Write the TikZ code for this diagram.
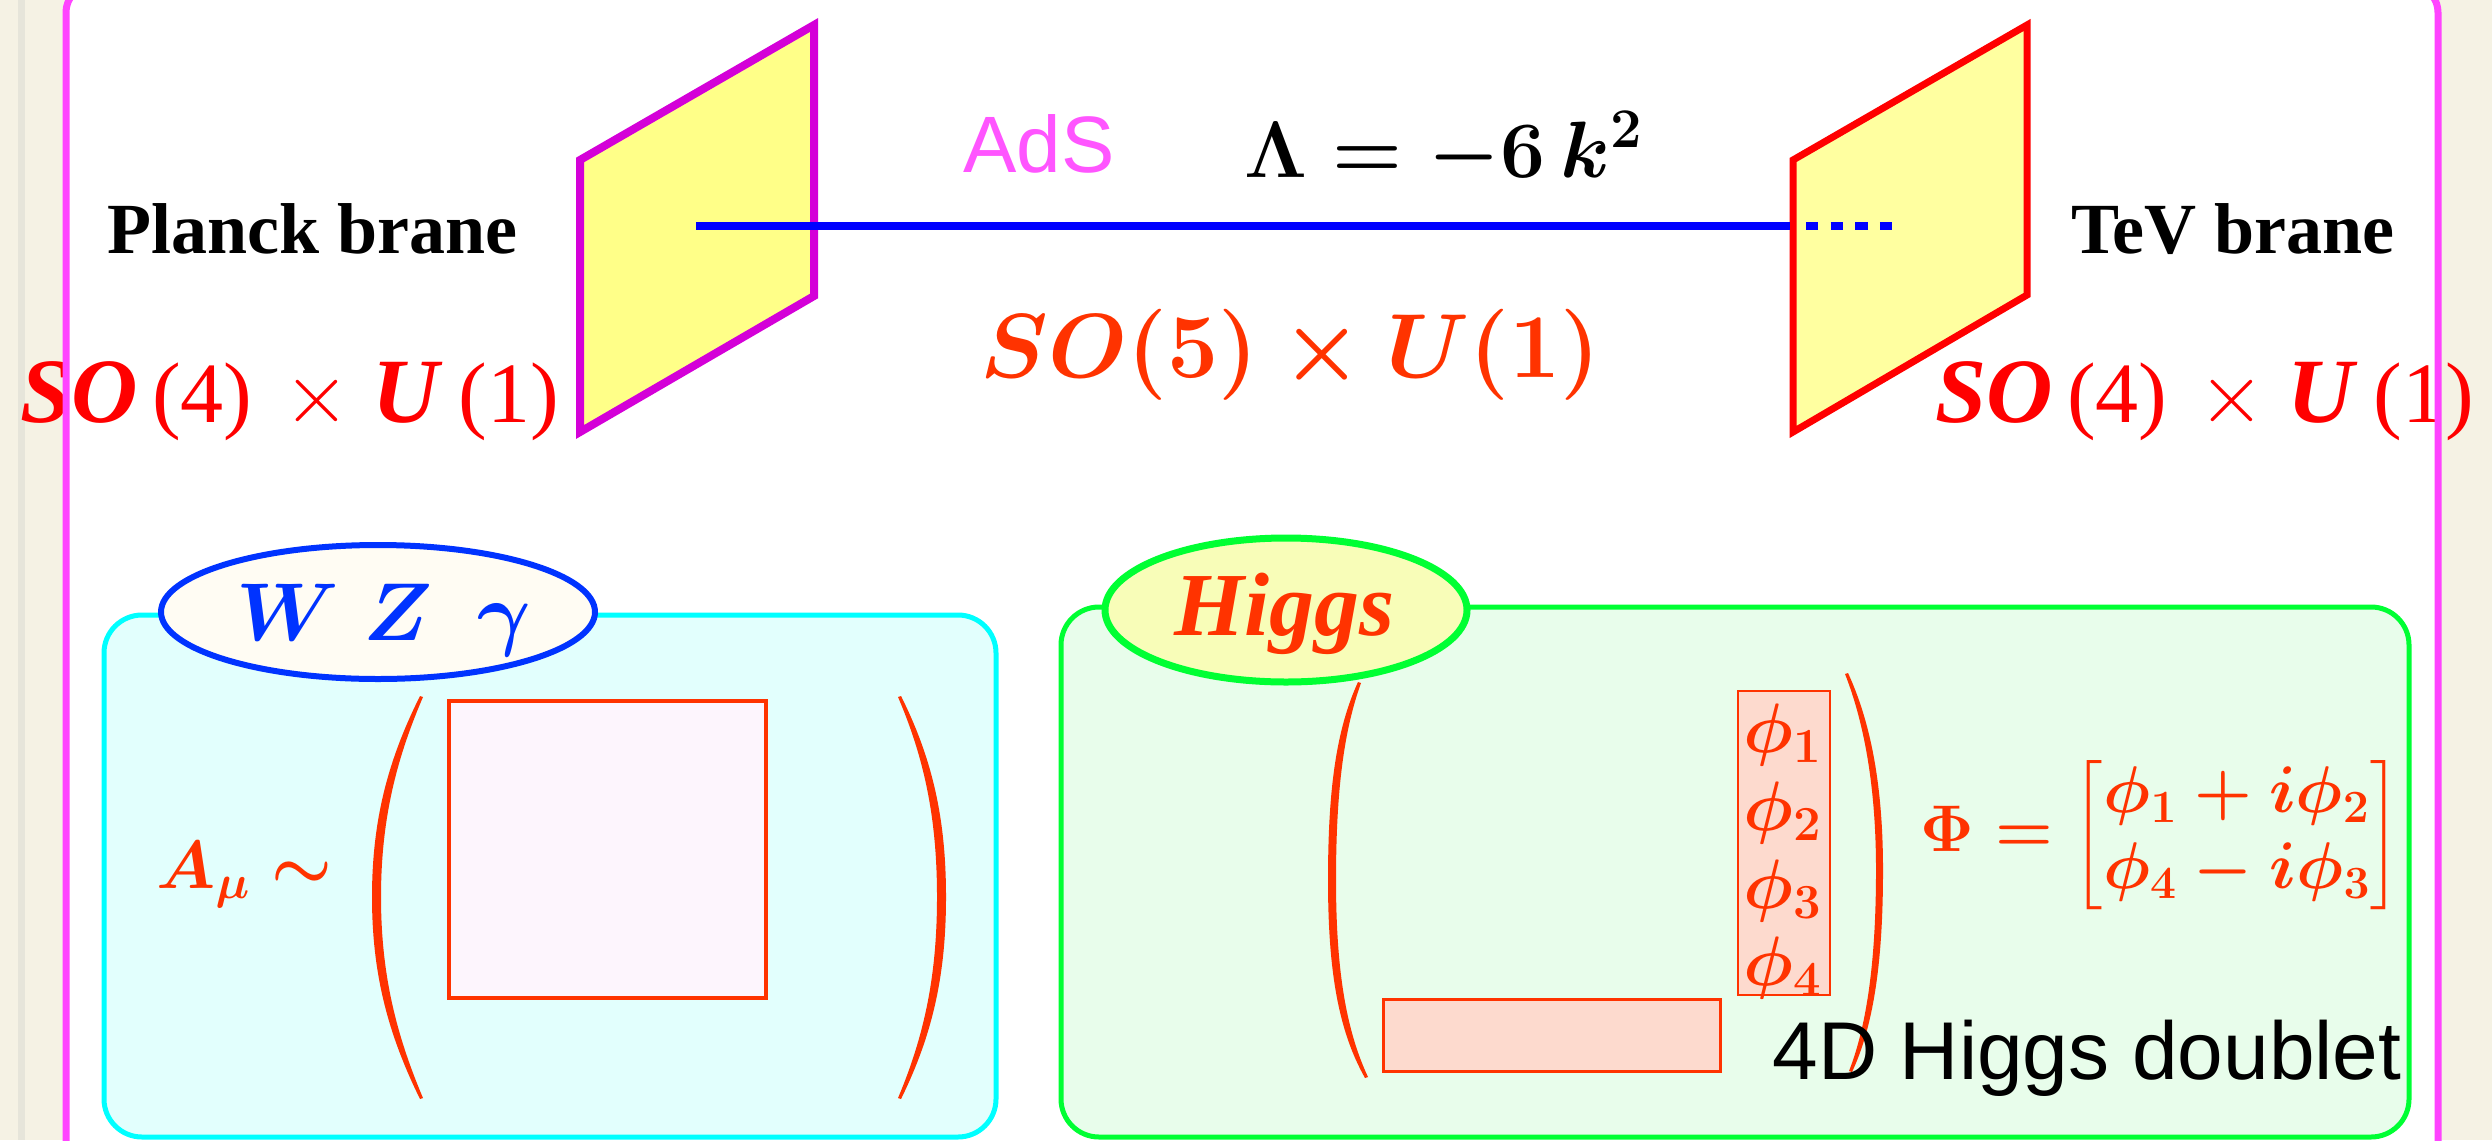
\documentclass[tikz,border=0pt]{standalone}
\usepackage{fix-cm}
\usepackage{amsmath}
\usepackage[no-math]{fontspec}
\setmainfont{Liberation Serif}
\newfontfamily\sansf{Liberation Sans}
\usetikzlibrary{shapes.geometric}
\definecolor{beige}{HTML}{F5F2E4}
\definecolor{stripe}{HTML}{E6E5DA}
\definecolor{framemag}{HTML}{FF44FF}
\definecolor{planckmag}{HTML}{D400D8}
\definecolor{braneyel}{HTML}{FFFF88}
\definecolor{tevyel}{HTML}{FFFFA0}
\definecolor{orred}{HTML}{FF3300}
\definecolor{cyanline}{HTML}{00FFFF}
\definecolor{cyanfill}{HTML}{E2FFFD}
\definecolor{greenfill}{HTML}{E8FDEB}
\definecolor{greenline}{HTML}{00FF33}
\definecolor{wzblue}{HTML}{0033FF}
\definecolor{ivory}{HTML}{FFFCF3}
\definecolor{higgsfill}{HTML}{F8FDB8}
\definecolor{pinkfill}{HTML}{FDF5FD}
\definecolor{salmon}{HTML}{FDDACE}
\definecolor{adsmag}{HTML}{FF55FF}
\definecolor{pureblue}{HTML}{0000FF}
\definecolor{purered}{HTML}{FF0000}
\tikzset{
  lbl/.style={inner sep=0pt, anchor=base west},
  bigparen/.style={fill=orred},
  brane/.style={line width=4pt, line join=miter},
  panel/.style={line width=2.5pt, rounded corners=19pt},
  blob/.style={ellipse, inner sep=0pt},
  redbox/.style={draw=orred},
}
\newcommand{\bigbi}[1]{{\fontsize{46}{48}\selectfont\bfseries\itshape #1\/}}
\newcommand{\sofour}{\fontsize{43}{46}\selectfont\bigbi{SO}\hspace{7pt}(4)\hspace{15.5pt}$\times$\hspace{11pt}\bigbi{U}\hspace{8pt}(1)}
\begin{document}
\begin{tikzpicture}[x=0.5pt,y=-0.5pt]
\useasboundingbox (0,0) rectangle (2492,1140);
\fill[beige] (0,0) rectangle (2492,1140);
\draw[stripe, line width=3.5pt] (21,0) -- (21,1140);
\begin{scope}
\clip (0,0) rectangle (2492,1140);
\fill[white, rounded corners=15pt] (66,-17) rectangle (2438,1200);

% branes
\draw[brane, draw=planckmag, fill=braneyel] (580,160) -- (814,25) -- (814,296) -- (580,432) -- cycle;
\draw[brane, line width=3.5pt, draw=purered, fill=tevyel] (1793,160) -- (2027,25) -- (2027,295) -- (1793,432) -- cycle;
\coordinate (ls) at (696,226);
\coordinate (le) at (1790,226);
\coordinate (ds) at (1806,226);
\coordinate (de) at (1892,226);
\draw[pureblue, line width=4pt] (ls) -- (le);
\draw[pureblue, line width=4pt, dash pattern=on 6.2pt off 6.1pt] (ds) -- (de);

% top texts
\node[lbl] (planck) at (107,253) {\fontsize{36}{40}\selectfont\bfseries Planck brane};
\node[lbl] (tev) at (2071,253) {\fontsize{36}{40}\selectfont\bfseries TeV brane};
\node[lbl, text=adsmag] (ads) at (963,172) {\sansf\fontsize{40}{44}\selectfont AdS};
\node[lbl] (cosmo) at (1244,177) {\fontsize{40}{44}\selectfont $\boldsymbol{\Lambda = -6\,k^{2}}$};
\node[lbl, text=orred] (so5) at (980,377) {\fontsize{45.5}{50}\selectfont $\boldsymbol{SO(5)\times U(1)}$};
\node[lbl, text=purered] (so4l) at (20,422) {\sofour};
\node[lbl, text=purered] (so4r) at (1935,422) {\sofour};

% left panel
\draw[panel, draw=cyanline, fill=cyanfill] (104,615) rectangle (996,1137);
\fill[bigparen] (420,696) .. controls (388,760) and (372,820) .. (372,897) .. controls (372,974) and (388,1034) .. (420,1099) -- (423,1098) .. controls (396,1034) and (381,974) .. (381,897) .. controls (381,820) and (396,760) .. (423,697) -- cycle;
\fill[bigparen] (901,696) .. controls (933,760) and (946,820) .. (946,897) .. controls (946,974) and (933,1034) .. (901,1099) -- (898,1098) .. controls (925,1034) and (937,974) .. (937,897) .. controls (937,820) and (925,760) .. (898,697) -- cycle;
\draw[redbox, line width=2pt, fill=pinkfill] (449,701) rectangle (766,998);
\node[lbl, text=orred] (amu) at (156,888) {\fontsize{34}{38}\selectfont $\boldsymbol{A_\mu\sim}$};
\node[blob, draw=wzblue, line width=3pt, fill=ivory, minimum width=217pt, minimum height=67pt] (wzell) at (378,612) {};
\node[lbl, text=wzblue] (wz) at (236,640) {\fontsize{41}{44}\selectfont $\boldsymbol{W}\hspace{0.3em}\boldsymbol{Z}\hspace{0.55em}\boldsymbol{\gamma}$};

% right panel
\draw[panel, draw=greenline, fill=greenfill] (1061,607) rectangle (2409,1137);
\fill[bigparen] (1358,682) .. controls (1336,730) and (1328,790) .. (1328,880) .. controls (1328,970) and (1338,1030) .. (1365,1078) -- (1368,1077) .. controls (1346,1030) and (1336,970) .. (1336,880) .. controls (1336,790) and (1344,730) .. (1361,683) -- cycle;
\fill[bigparen] (1848,673) .. controls (1872,725) and (1883,790) .. (1883,870) .. controls (1883,960) and (1874,1025) .. (1852,1072) -- (1849,1071) .. controls (1867,1025) and (1876,960) .. (1876,870) .. controls (1876,790) and (1865,725) .. (1845,674) -- cycle;
\draw[redbox, line width=1pt, fill=salmon] (1738,691) rectangle (1830,995);
\node[inner sep=0pt, anchor=base, text=orred] (phi1) at (1783,752) {\fontsize{35}{38}\selectfont $\boldsymbol{\phi_1}$};
\node[inner sep=0pt, anchor=base, text=orred] (phi2) at (1783,830) {\fontsize{35}{38}\selectfont $\boldsymbol{\phi_2}$};
\node[inner sep=0pt, anchor=base, text=orred] (phi3) at (1783,908) {\fontsize{35}{38}\selectfont $\boldsymbol{\phi_3}$};
\node[inner sep=0pt, anchor=base, text=orred] (phi4) at (1783,985) {\fontsize{35}{38}\selectfont $\boldsymbol{\phi_4}$};
\draw[redbox, line width=1.5pt, fill=salmon] (1383,999) rectangle (1720,1071);
\node[inner sep=0pt, anchor=west, text=orred] (phieq) at (1920,835) {\fontsize{33}{38}\selectfont $\boldsymbol{\Phi = \begin{bmatrix}\phi_1+i\phi_2\\ \phi_4-i\phi_3\end{bmatrix}}$};
\node[blob, draw=greenline, line width=3.5pt, fill=higgsfill, minimum width=181pt, minimum height=72pt] (higgsell) at (1286,610) {};
\node[lbl, text=orred] (higgs) at (1174,635) {\fontsize{45}{48}\selectfont\bfseries\itshape Higgs};
\node[lbl] (doublet) at (1772,1079) {\sansf\fontsize{41}{44}\selectfont 4D Higgs doublet};

% frame on top
\draw[framemag, line width=3.5pt, rounded corners=15pt] (66,-17) rectangle (2438,1200);
\end{scope}
\end{tikzpicture}
\end{document}
